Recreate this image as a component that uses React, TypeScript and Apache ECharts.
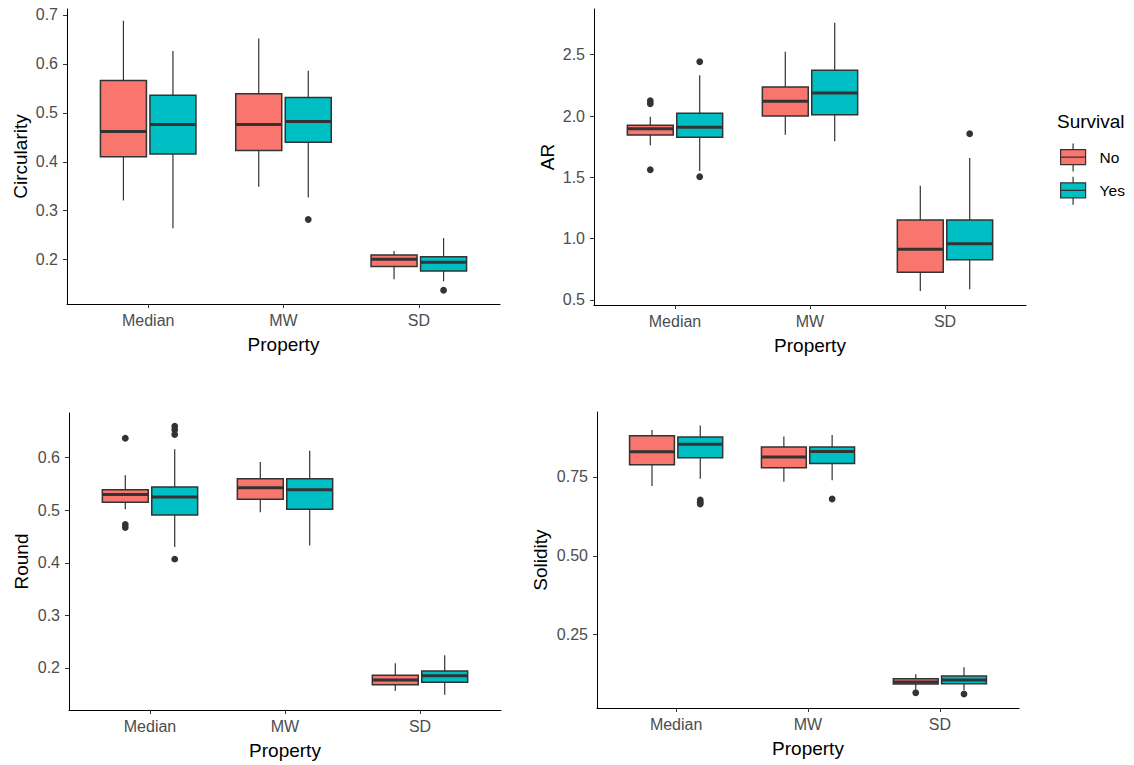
import React, { useEffect, useRef } from 'react';
import * as echarts from 'echarts';

const properties = ['Median', 'MW', 'SD'];
const survivalGroups = ['No', 'Yes'];
const groupColors = ['#F8766D', '#00BFC4'];

// five-number summaries per property: [lowerWhisker, Q1, median, Q3, upperWhisker]
const circularityNo = [
  [0.321, 0.41, 0.462, 0.566, 0.688],
  [0.349, 0.423, 0.476, 0.539, 0.652],
  [0.16, 0.186, 0.201, 0.2096, 0.218],
];
const circularityYes = [
  [0.264, 0.416, 0.476, 0.536, 0.626],
  [0.327, 0.44, 0.482, 0.531, 0.586],
  [0.156, 0.177, 0.195, 0.206, 0.244],
];
const arNo = [
  [1.761, 1.845, 1.897, 1.924, 1.994],
  [1.848, 2.0, 2.12, 2.236, 2.525],
  [0.573, 0.726, 0.913, 1.152, 1.432],
];
const arYes = [
  [1.552, 1.827, 1.908, 2.022, 2.332],
  [1.794, 2.011, 2.187, 2.373, 2.761],
  [0.587, 0.829, 0.959, 1.152, 1.658],
];
const roundNo = [
  [0.502, 0.515, 0.53, 0.539, 0.5665],
  [0.496, 0.521, 0.543, 0.56, 0.592],
  [0.156, 0.168, 0.177, 0.186, 0.209],
];
const roundYes = [
  [0.43, 0.491, 0.525, 0.544, 0.616],
  [0.433, 0.502, 0.539, 0.56, 0.613],
  [0.149, 0.173, 0.185, 0.194, 0.224],
];
const solidityNo = [
  [0.721, 0.789, 0.83, 0.881, 0.899],
  [0.735, 0.779, 0.813, 0.845, 0.878],
  [0.077, 0.0937, 0.1, 0.11, 0.1244],
];
const solidityYes = [
  [0.744, 0.811, 0.854, 0.877, 0.913],
  [0.74, 0.793, 0.831, 0.845, 0.883],
  [0.0747, 0.0947, 0.106, 0.119, 0.147],
];

// outliers: [propertyIndex, value]
const circularityNoOutliers: number[][] = [];
const circularityYesOutliers = [[1, 0.282], [2, 0.1375]];
const arNoOutliers = [[0, 2.125], [0, 2.1], [0, 1.562]];
const arYesOutliers = [[0, 2.443], [0, 1.505], [2, 1.856]];
const roundNoOutliers = [[0, 0.637], [0, 0.473], [0, 0.467]];
const roundYesOutliers = [[0, 0.66], [0, 0.653], [0, 0.644], [0, 0.407]];
const solidityNoOutliers = [[2, 0.066]];
const solidityYesOutliers = [[0, 0.677], [0, 0.67], [0, 0.664], [1, 0.68], [2, 0.062]];

// tick values
const circularityTicks = [0.2, 0.3, 0.4, 0.5, 0.6, 0.7];
const arTicks = [0.5, 1.0, 1.5, 2.0, 2.5];
const roundTicks = [0.2, 0.3, 0.4, 0.5, 0.6];
const solidityTicks = [0.25, 0.5, 0.75];
const propertyTicks = [1, 2, 3];

const FONT = '"Liberation Sans", Arial, sans-serif';
const DODGE = 0.183;
const BOX_WIDTH = 0.34;

const panels = [
  {
    title: 'Circularity', groups: [circularityNo, circularityYes], outliers: [circularityNoOutliers, circularityYesOutliers],
    ticks: circularityTicks, decimals: 1, yMin: 0.1095, yMax: 0.712,
    grid: { left: 67, top: 9, width: 433, height: 295 }, nameGap: 37,
  },
  {
    title: 'AR', groups: [arNo, arYes], outliers: [arNoOutliers, arYesOutliers],
    ticks: arTicks, decimals: 1, yMin: 0.459, yMax: 2.873,
    grid: { left: 594, top: 9, width: 432, height: 296 }, nameGap: 37,
  },
  {
    title: 'Round', groups: [roundNo, roundYes], outliers: [roundNoOutliers, roundYesOutliers],
    ticks: roundTicks, decimals: 1, yMin: 0.12, yMax: 0.685,
    grid: { left: 69, top: 413, width: 432, height: 297 }, nameGap: 38,
  },
  {
    title: 'Solidity', groups: [solidityNo, solidityYes], outliers: [solidityNoOutliers, solidityYesOutliers],
    ticks: solidityTicks, decimals: 2, yMin: 0.0175, yMax: 0.956,
    grid: { left: 597, top: 412, width: 422, height: 296 }, nameGap: 47,
  },
];

const boxRender = (offset: number) => (params: any, api: any) => {
  const x = api.value(0) + offset;
  const lo = api.coord([x, api.value(1)]);
  const q1 = api.coord([x, api.value(2)]);
  const md = api.coord([x, api.value(3)]);
  const q3 = api.coord([x, api.value(4)]);
  const hi = api.coord([x, api.value(5)]);
  const w = api.size([BOX_WIDTH, 0])[0];
  const cx = md[0];
  const fill = api.visual('color');
  const ws = { stroke: '#333333', lineWidth: 1.2 };
  return {
    type: 'group',
    children: [
      { type: 'line', shape: { x1: cx, y1: hi[1], x2: cx, y2: q3[1] }, style: ws },
      { type: 'line', shape: { x1: cx, y1: q1[1], x2: cx, y2: lo[1] }, style: ws },
      {
        type: 'rect',
        shape: { x: cx - w / 2, y: q3[1], width: w, height: q1[1] - q3[1] },
        style: { fill, stroke: '#333333', lineWidth: 1.5 },
      },
      { type: 'line', shape: { x1: cx - w / 2, y1: md[1], x2: cx + w / 2, y2: md[1] }, style: { stroke: '#333333', lineWidth: 3 } },
    ],
  };
};

const outlierRender = (offset: number) => (params: any, api: any) => {
  const p = api.coord([api.value(0) + offset, api.value(1)]);
  return { type: 'circle', shape: { cx: p[0], cy: p[1], r: 3.4 }, style: { fill: '#333333' } };
};

const legendIcon =
  'path://M12.5,0 L12.5,6 M0,6 L25,6 L25,21 L0,21 Z M0,13.5 L25,13.5 M12.5,21 L12.5,28';

export default function App() {
  const ref = useRef<HTMLDivElement>(null);
  useEffect(() => {
    if (!ref.current) return;
    const chart = echarts.init(ref.current, undefined, { renderer: 'svg' });
    const grid = panels.map((p) => ({ ...p.grid, containLabel: false, outerBoundsMode: 'none' }));
    const xAxis = panels.map((p, i) => ({
      type: 'value',
      gridIndex: i,
      min: 0.4,
      max: 3.6,
      name: 'Property',
      nameLocation: 'middle',
      nameGap: 31,
      nameTextStyle: { fontSize: 19, color: '#000000', fontFamily: FONT },
      axisLine: { show: true, onZero: false, lineStyle: { color: '#000000', width: 1 } },
      axisTick: { show: true, length: 4, customValues: propertyTicks, lineStyle: { color: '#333333', width: 1 } },
      axisLabel: {
        show: true,
        customValues: propertyTicks,
        margin: 8,
        fontSize: 16,
        color: '#4D4D4D',
        fontFamily: FONT,
        formatter: (v: number) => properties[Math.round(v) - 1] ?? '',
      },
      splitLine: { show: false },
    }));
    const yAxis = panels.map((p, i) => ({
      type: 'value',
      gridIndex: i,
      min: p.yMin,
      max: p.yMax,
      name: p.title,
      nameLocation: 'middle',
      nameGap: p.nameGap,
      nameTextStyle: { fontSize: 19, color: '#000000', fontFamily: FONT },
      axisLine: { show: true, onZero: false, lineStyle: { color: '#000000', width: 1 } },
      axisTick: { show: true, length: 4, customValues: p.ticks, lineStyle: { color: '#333333', width: 1 } },
      axisLabel: {
        show: true,
        customValues: p.ticks,
        margin: 9,
        fontSize: 16,
        color: '#4D4D4D',
        fontFamily: FONT,
        formatter: (v: number) => v.toFixed(p.decimals),
      },
      splitLine: { show: false },
    }));
    const series: any[] = [];
    panels.forEach((p, i) => {
      survivalGroups.forEach((g, gi) => {
        const off = gi === 0 ? -DODGE : DODGE;
        series.push({
          type: 'custom',
          name: g,
          xAxisIndex: i,
          yAxisIndex: i,
          itemStyle: { color: groupColors[gi] },
          encode: { x: 0, y: [1, 2, 3, 4, 5] },
          data: p.groups[gi].map((s, k) => [k + 1, ...s]),
          renderItem: boxRender(off),
          z: 2,
        });
      });
    });
    panels.forEach((p, i) => {
      survivalGroups.forEach((g, gi) => {
        const off = gi === 0 ? -DODGE : DODGE;
        series.push({
          type: 'custom',
          name: g,
          xAxisIndex: i,
          yAxisIndex: i,
          itemStyle: { color: groupColors[gi] },
          encode: { x: 0, y: 1 },
          data: p.outliers[gi].map(([k, v]) => [k + 1, v]),
          renderItem: outlierRender(off),
          z: 3,
        });
      });
    });
    chart.setOption({
      animation: false,
      backgroundColor: '#ffffff',
      textStyle: { fontFamily: FONT },
      grid,
      xAxis,
      yAxis,
      legend: {
        show: true,
        orient: 'vertical',
        left: 1060,
        top: 143,
        itemWidth: 25,
        itemHeight: 28,
        itemGap: 4,
        padding: 0,
        icon: legendIcon,
        itemStyle: { borderColor: '#333333', borderWidth: 1.2 },
        textStyle: { fontSize: 15.5, color: '#000000', fontFamily: FONT, padding: [0, 0, 0, 9] },
        data: survivalGroups,
        selectedMode: false,
      },
      graphic: [
        {
          type: 'text',
          left: 1057,
          top: 112,
          style: { text: 'Survival', fontSize: 19, fill: '#000000', fontFamily: FONT },
        },
      ],
      series,
    });
    return () => chart.dispose();
  }, []);
  return (
    <div
      ref={ref}
      style={{ position: 'fixed', left: 0, top: 0, width: 1134, height: 765, background: '#fff' }}
    />
  );
}
